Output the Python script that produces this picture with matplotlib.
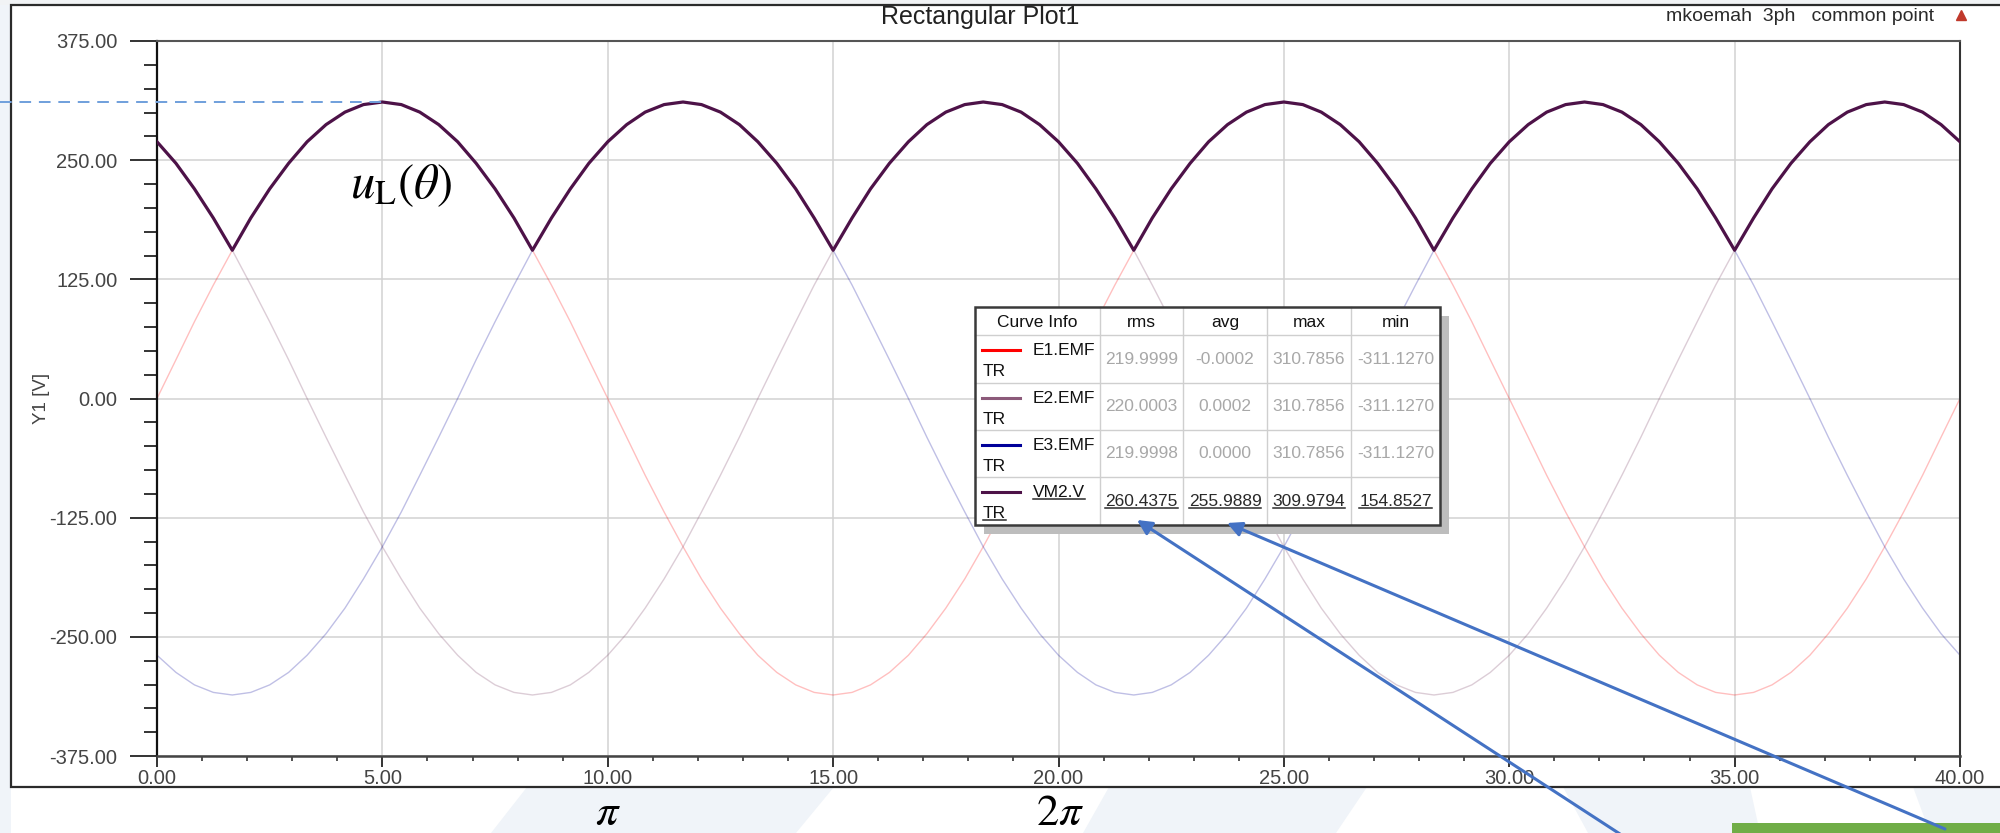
import numpy as np
import matplotlib
matplotlib.use('Agg')
import matplotlib.pyplot as plt
from matplotlib.patches import Rectangle, Polygon
from matplotlib.lines import Line2D
from matplotlib.ticker import MultipleLocator, FormatStrFormatter
from matplotlib.transforms import blended_transform_factory

plt.rcParams['font.family'] = ['Liberation Sans', 'DejaVu Sans']
plt.rcParams['mathtext.fontset'] = 'stix'

# ---- data (time in ms, voltages in V) ----
t_ms = [0.00, 0.42, 0.83, 1.25, 1.67, 2.08, 2.50, 2.92, 3.33, 3.75, 4.17, 4.58,
        5.00, 5.42, 5.83, 6.25, 6.67, 7.08, 7.50, 7.92, 8.33, 8.75, 9.17, 9.58,
        10.00, 10.42, 10.83, 11.25, 11.67, 12.08, 12.50, 12.92, 13.33, 13.75, 14.17, 14.58,
        15.00, 15.42, 15.83, 16.25, 16.67, 17.08, 17.50, 17.92, 18.33, 18.75, 19.17, 19.58,
        20.00, 20.42, 20.83, 21.25, 21.67, 22.08, 22.50, 22.92, 23.33, 23.75, 24.17, 24.58,
        25.00, 25.42, 25.83, 26.25, 26.67, 27.08, 27.50, 27.92, 28.33, 28.75, 29.17, 29.58,
        30.00, 30.42, 30.83, 31.25, 31.67, 32.08, 32.50, 32.92, 33.33, 33.75, 34.17, 34.58,
        35.00, 35.42, 35.83, 36.25, 36.67, 37.08, 37.50, 37.92, 38.33, 38.75, 39.17, 39.58,
        40.00]

e1_emf = [0.0, 40.6, 80.5, 119.0, 155.5, 189.3, 219.9, 246.7, 269.3, 287.3, 300.4, 308.3,
          311.0, 308.3, 300.4, 287.3, 269.3, 246.7, 219.9, 189.3, 155.5, 119.0, 80.5, 40.6,
          0.0, -40.6, -80.5, -119.0, -155.5, -189.3, -219.9, -246.7, -269.3, -287.3, -300.4, -308.3,
          -311.0, -308.3, -300.4, -287.3, -269.3, -246.7, -219.9, -189.3, -155.5, -119.0, -80.5, -40.6,
          0.0, 40.6, 80.5, 119.0, 155.5, 189.3, 219.9, 246.7, 269.3, 287.3, 300.4, 308.3,
          311.0, 308.3, 300.4, 287.3, 269.3, 246.7, 219.9, 189.3, 155.5, 119.0, 80.5, 40.6,
          0.0, -40.6, -80.5, -119.0, -155.5, -189.3, -219.9, -246.7, -269.3, -287.3, -300.4, -308.3,
          -311.0, -308.3, -300.4, -287.3, -269.3, -246.7, -219.9, -189.3, -155.5, -119.0, -80.5, -40.6,
          0.0]

e2_emf = [269.3, 246.7, 219.9, 189.3, 155.5, 119.0, 80.5, 40.6, 0.0, -40.6, -80.5, -119.0,
          -155.5, -189.3, -219.9, -246.7, -269.3, -287.3, -300.4, -308.3, -311.0, -308.3, -300.4, -287.3,
          -269.3, -246.7, -219.9, -189.3, -155.5, -119.0, -80.5, -40.6, 0.0, 40.6, 80.5, 119.0,
          155.5, 189.3, 219.9, 246.7, 269.3, 287.3, 300.4, 308.3, 311.0, 308.3, 300.4, 287.3,
          269.3, 246.7, 219.9, 189.3, 155.5, 119.0, 80.5, 40.6, 0.0, -40.6, -80.5, -119.0,
          -155.5, -189.3, -219.9, -246.7, -269.3, -287.3, -300.4, -308.3, -311.0, -308.3, -300.4, -287.3,
          -269.3, -246.7, -219.9, -189.3, -155.5, -119.0, -80.5, -40.6, 0.0, 40.6, 80.5, 119.0,
          155.5, 189.3, 219.9, 246.7, 269.3, 287.3, 300.4, 308.3, 311.0, 308.3, 300.4, 287.3,
          269.3]

e3_emf = [-269.3, -287.3, -300.4, -308.3, -311.0, -308.3, -300.4, -287.3, -269.3, -246.7, -219.9, -189.3,
          -155.5, -119.0, -80.5, -40.6, 0.0, 40.6, 80.5, 119.0, 155.5, 189.3, 219.9, 246.7,
          269.3, 287.3, 300.4, 308.3, 311.0, 308.3, 300.4, 287.3, 269.3, 246.7, 219.9, 189.3,
          155.5, 119.0, 80.5, 40.6, 0.0, -40.6, -80.5, -119.0, -155.5, -189.3, -219.9, -246.7,
          -269.3, -287.3, -300.4, -308.3, -311.0, -308.3, -300.4, -287.3, -269.3, -246.7, -219.9, -189.3,
          -155.5, -119.0, -80.5, -40.6, 0.0, 40.6, 80.5, 119.0, 155.5, 189.3, 219.9, 246.7,
          269.3, 287.3, 300.4, 308.3, 311.0, 308.3, 300.4, 287.3, 269.3, 246.7, 219.9, 189.3,
          155.5, 119.0, 80.5, 40.6, 0.0, -40.6, -80.5, -119.0, -155.5, -189.3, -219.9, -246.7,
          -269.3]

vm2_v = [269.3, 246.7, 219.9, 189.3, 155.5, 189.3, 219.9, 246.7, 269.3, 287.3, 300.4, 308.3, 311.0, 308.3, 300.4, 287.3,
         269.3, 246.7, 219.9, 189.3, 155.5, 189.3, 219.9, 246.7, 269.3, 287.3, 300.4, 308.3, 311.0, 308.3, 300.4, 287.3,
         269.3, 246.7, 219.9, 189.3, 155.5, 189.3, 219.9, 246.7, 269.3, 287.3, 300.4, 308.3, 311.0, 308.3, 300.4, 287.3,
         269.3, 246.7, 219.9, 189.3, 155.5, 189.3, 219.9, 246.7, 269.3, 287.3, 300.4, 308.3, 311.0, 308.3, 300.4, 287.3,
         269.3, 246.7, 219.9, 189.3, 155.5, 189.3, 219.9, 246.7, 269.3, 287.3, 300.4, 308.3, 311.0, 308.3, 300.4, 287.3,
         269.3, 246.7, 219.9, 189.3, 155.5, 189.3, 219.9, 246.7, 269.3, 287.3, 300.4, 308.3, 311.0, 308.3, 300.4, 287.3,
         269.3]

# curve info table
curve_names = ['E1.EMF', 'E2.EMF', 'E3.EMF', 'VM2.V']
curve_rms = [219.9999, 220.0003, 219.9998, 260.4375]
curve_avg = [-0.0002, 0.0002, 0.0000, 255.9889]
curve_max = [310.7856, 310.7856, 310.7856, 309.9794]
curve_min = [-311.1270, -311.1270, -311.1270, 154.8527]
curve_colors = ['#ff0000', '#8c5a7a', '#000099', '#4d1248']

peak_level = 311.0

W_PX, H_PX = 2000, 833
fig = plt.figure(figsize=(20, 8.33), dpi=100)
fig.patch.set_facecolor('white')

# background + screenshot frame, in pixel coords
bg = fig.add_axes([0, 0, 1, 1], zorder=0)
bg.set_xlim(0, W_PX)
bg.set_ylim(H_PX, 0)
bg.axis('off')
shade = '#f0f4f9'
bg.add_patch(Rectangle((0, 0), 11, H_PX, color=shade, lw=0))
bg.add_patch(Rectangle((0, 0), W_PX, 5, color='#f1f3f5', lw=0))
for poly in [[(527, 787), (834, 787), (796, 833), (491, 833)],
             [(1109, 787), (1367, 787), (1336, 833), (1083, 833)],
             [(1563, 787), (1750, 787), (1760, 833), (1588, 833)],
             [(1913, 787), (2000, 787), (2000, 833), (1930, 833)]]:
    bg.add_patch(Polygon(poly, closed=True, color=shade, lw=0))
bg.add_patch(Rectangle((11, 5), 2100, 782, fc='white', ec='#2b2b2b', lw=1.6))

# main plot
ax_l, ax_r, ax_t, ax_b = 157, 1960, 41, 756
ax = fig.add_axes([ax_l / W_PX, 1 - ax_b / H_PX, (ax_r - ax_l) / W_PX, (ax_b - ax_t) / H_PX],
                  zorder=1)
ax.set_facecolor('white')
ax.plot(t_ms, e1_emf, color=curve_colors[0], alpha=0.25, lw=1.0)
ax.plot(t_ms, e2_emf, color=curve_colors[1], alpha=0.3, lw=1.0)
ax.plot(t_ms, e3_emf, color=curve_colors[2], alpha=0.25, lw=1.0)
ax.plot(t_ms, vm2_v, color=curve_colors[3], lw=2.3, zorder=3)

ax.set_xlim(0, 40)
ax.set_ylim(-375, 375)
ax.xaxis.set_major_locator(MultipleLocator(5))
ax.xaxis.set_minor_locator(MultipleLocator(1))
ax.yaxis.set_major_locator(MultipleLocator(125))
ax.yaxis.set_minor_locator(MultipleLocator(25))
ax.xaxis.set_major_formatter(FormatStrFormatter('%.2f'))
ax.yaxis.set_major_formatter(FormatStrFormatter('%.2f'))
ax.grid(which='major', color='#d2d2d2', lw=1.1)
ax.set_axisbelow(True)

ax.tick_params(axis='y', which='major', direction='out', length=19.5, width=1.4,
               color='#333333', labelsize=14.5, labelcolor='#444444', pad=9)
ax.tick_params(axis='y', which='minor', direction='out', length=9.5, width=1.4, color='#333333')
ax.tick_params(axis='x', which='major', direction='out', length=8, width=1.4,
               color='#333333', labelsize=14.5, labelcolor='#444444', pad=1)
ax.tick_params(axis='x', which='minor', direction='out', length=3.6, width=1.2, color='#333333')

ax.spines['left'].set_color('#111111')
ax.spines['left'].set_linewidth(1.6)
ax.spines['bottom'].set_color('#444444')
ax.spines['bottom'].set_linewidth(1.8)
ax.spines['top'].set_color('#555555')
ax.spines['top'].set_linewidth(1.5)
ax.spines['right'].set_color('#333333')
ax.spines['right'].set_linewidth(1.5)

ax.set_ylabel('Y1 [V]', fontsize=13.5, color='#444444', va='center')
ax.yaxis.set_label_coords(-(ax_l - 41) / (ax_r - ax_l), 0.5)

# dashed marker of the peak level, from the figure edge to the first peak
peak_x = 5
trans = blended_transform_factory(fig.transFigure, ax.transData)
x_end = (ax_l + (ax_r - ax_l) * peak_x / 40) / W_PX
fig.add_artist(Line2D([0, x_end], [peak_level, peak_level], transform=trans,
                      color='#6f9fdc', lw=1.4, ls=(0, (6, 4)), zorder=2))

# overlay in pixel coords: titles, table, annotations
ov = fig.add_axes([0, 0, 1, 1], zorder=3)
ov.set_xlim(0, W_PX)
ov.set_ylim(H_PX, 0)
ov.axis('off')

ov.text(980, 17, 'Rectangular Plot1', ha='center', va='center', fontsize=18, color='#222222')
ov.text(1934, 16, 'mkoemah  3ph   common point', ha='right', va='center',
        fontsize=14, color='#2a2a2a')
ov.plot([1961], [15], marker='^', color='#c0392b', markersize=7)

ov.text(350, 198, r'$u_{\mathrm{L}}(\theta)$', ha='left', va='baseline', fontsize=35, color='black')
ov.text(608, 825, r'$\pi$', ha='center', va='baseline', fontsize=32, color='black')
ov.text(1060, 825, r'$2\pi$', ha='center', va='baseline', fontsize=32, color='black')

# curve info table
cols_x = [975, 1100, 1183, 1267, 1351, 1440]
rows_y = [307, 335, 383, 430, 477, 525]
ov.add_patch(Rectangle((cols_x[0] + 9, rows_y[0] + 9), cols_x[-1] - cols_x[0], rows_y[-1] - rows_y[0],
                       color='#bdbdbd', lw=0, zorder=1))
ov.add_patch(Rectangle((cols_x[0], rows_y[0]), cols_x[-1] - cols_x[0], rows_y[-1] - rows_y[0],
                       fc='white', ec='none', zorder=2))
for xc in cols_x[1:-1]:
    ov.plot([xc, xc], [rows_y[0], rows_y[-1]], color='#cfcfcf', lw=1, zorder=3)
for yr in rows_y[1:-1]:
    ov.plot([cols_x[0], cols_x[-1]], [yr, yr], color='#cfcfcf', lw=1, zorder=3)
ov.add_patch(Rectangle((cols_x[0], rows_y[0]), cols_x[-1] - cols_x[0], rows_y[-1] - rows_y[0],
                       fc='none', ec='#3a3a3a', lw=1.8, zorder=4))

headers = ['Curve Info', 'rms', 'avg', 'max', 'min']
for i, h in enumerate(headers):
    ov.text((cols_x[i] + cols_x[i + 1]) / 2, (rows_y[0] + rows_y[1]) / 2 + 1, h,
            ha='center', va='center', fontsize=12.5, color='#111111', zorder=5)

underlined = []
for r, name in enumerate(curve_names):
    top = rows_y[r + 1]
    bot = rows_y[r + 2]
    active = (r == len(curve_names) - 1)
    ov.plot([982, 1020], [top + 15, top + 15], color=curve_colors[r], lw=2.2, zorder=5)
    t1 = ov.text(1033, top + 15, name, ha='left', va='center', fontsize=12.5, color='#111111', zorder=5)
    t2 = ov.text(983, top + 36, 'TR', ha='left', va='center', fontsize=12.5, color='#111111', zorder=5)
    vals = [curve_rms[r], curve_avg[r], curve_max[r], curve_min[r]]
    for c, v in enumerate(vals):
        t = ov.text((cols_x[c + 1] + cols_x[c + 2]) / 2, (top + bot) / 2, '%.4f' % v,
                    ha='center', va='center', fontsize=12.5,
                    color='#2a2a2a' if active else '#a8a8a8', zorder=5)
        if active:
            underlined.append(t)
    if active:
        underlined += [t1, t2]

renderer = fig.canvas.get_renderer()
inv = ov.transData.inverted()
for t in underlined:
    bb = t.get_window_extent(renderer)
    (x0, y0), (x1, y1) = inv.transform([(bb.x0, bb.y0), (bb.x1, bb.y1)])
    ov.plot([x0, x1], [y0 - 1, y0 - 1], color='#2a2a2a', lw=1.1, zorder=5)

# green box and arrows pointing to rms / avg of VM2.V
ov.add_patch(Rectangle((1732, 823), 300, 20, color='#70ad47', lw=0, zorder=2))
ov.annotate('', xy=(1137, 520), xytext=(1620, 834),
            arrowprops=dict(arrowstyle='-|>', color='#4472c4', lw=2.2, mutation_scale=22,
                            shrinkA=0, shrinkB=0), zorder=6)
ov.annotate('', xy=(1227, 523), xytext=(1945, 829),
            arrowprops=dict(arrowstyle='-|>', color='#4472c4', lw=2.2, mutation_scale=22,
                            shrinkA=0, shrinkB=0), zorder=6)

fig.savefig('out.png', dpi=100)
